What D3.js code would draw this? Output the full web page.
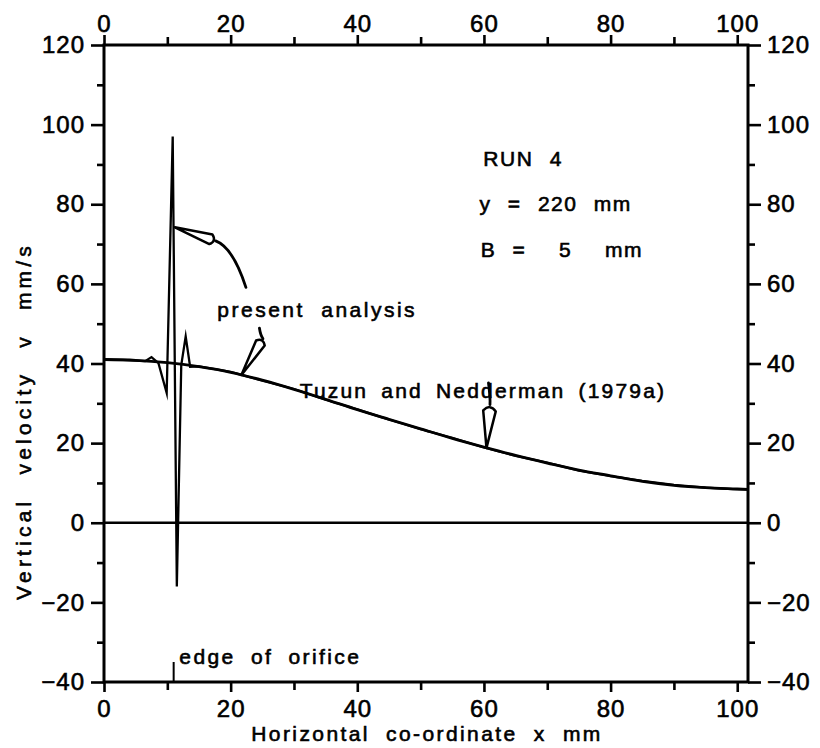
<!DOCTYPE html>
<html>
<head>
<meta charset="utf-8">
<script src="https://cdn.jsdelivr.net/npm/d3@7"></script>
<style>
  html, body { margin: 0; padding: 0; background: #fff; }
  svg { display: block; }
  text { font-family: "Liberation Sans", Arial, Helvetica, sans-serif; fill: #000; stroke: #000; stroke-width: 0.6px; }
</style>
</head>
<body>
<svg id="chart" width="820" height="748"></svg>
<script>
// Horizontal co-ordinate x (mm) and vertical velocity v (mm/s)
const tuzunX = [0, 5, 10, 15, 20, 25, 30, 35, 40, 45, 50, 55, 60, 65, 70, 75, 80, 85, 90, 95, 100, 101.7];
const tuzunV = [41, 40.8, 40.2, 39.2, 37.8, 35.8, 33.5, 31, 28.4, 26, 23.6, 21.2, 19, 16.9, 15, 13.2, 11.8, 10.4, 9.4, 8.8, 8.5, 8.4];

const presentX = [0, 3, 6.5, 7.5, 8.6, 9.9, 10.85, 11.5, 12.2, 12.9, 13.6, 15, 20, 25, 30, 35, 40, 45, 50, 55, 60, 65, 70, 75, 80, 85, 90, 95, 100, 101.7];
const presentV = [41, 40.9, 40.6, 41.6, 40.1, 32.6, 97, -16, 39.6, 46.8, 39.2, 39.3, 37.9, 35.7, 33.6, 30.9, 28.5, 25.9, 23.5, 21.3, 18.9, 16.8, 15.1, 13.1, 11.7, 10.5, 9.5, 8.8, 8.4, 8.3];

const xMajorTicks = [0, 20, 40, 60, 80, 100];
const xMinorTicks = [10, 30, 50, 70, 90];
const yMajorTicks = [-40, -20, 0, 20, 40, 60, 80, 100, 120];
const yMinorTicks = [-30, -10, 10, 30, 50, 70, 90, 110];

const orificeEdgeX = 11;

// annotation arrows: tip sits on the curve (data coordinates)
const arrowTips = [
  { x: 11.2, v: 74.2 },
  { x: 21.7, v: 37.1 },
  { x: 60.4, v: 18.8 }
];

const svg = d3.select("#chart");
const mLeft = 104, mRight = 748, mTop = 45, mBottom = 682;

const x = d3.scaleLinear().domain([0, 101.7]).range([mLeft, mRight]);
const y = d3.scaleLinear().domain([-40, 120]).range([mBottom, mTop]);

const fmt = d => d < 0 ? "\u2212" + Math.abs(d) : String(d);

function styleAxis(g) {
  g.select(".domain").remove();
  g.selectAll(".tick line").attr("stroke", "#000").attr("stroke-width", 2.6);
  g.selectAll(".tick text").attr("font-size", 24).attr("fill", "#000")
    .style("font-family", "'Liberation Sans', Arial, sans-serif")
    .attr("letter-spacing", 1);
}

// major and minor ticks on all four sides
svg.append("g").attr("transform", `translate(${mLeft},0)`)
  .call(d3.axisLeft(y).tickValues(yMajorTicks).tickSize(13).tickPadding(6).tickFormat(fmt))
  .call(styleAxis);
svg.append("g").attr("transform", `translate(${mLeft},0)`)
  .call(d3.axisLeft(y).tickValues(yMinorTicks).tickSize(7).tickFormat(""))
  .call(styleAxis);
svg.append("g").attr("transform", `translate(${mRight},0)`)
  .call(d3.axisRight(y).tickValues(yMajorTicks).tickSize(13).tickPadding(6).tickFormat(fmt))
  .call(styleAxis);
svg.append("g").attr("transform", `translate(${mRight},0)`)
  .call(d3.axisRight(y).tickValues(yMinorTicks).tickSize(7).tickFormat(""))
  .call(styleAxis);
svg.append("g").attr("transform", `translate(0,${mTop})`)
  .call(d3.axisTop(x).tickValues(xMajorTicks).tickSize(10).tickPadding(3).tickFormat(fmt))
  .call(styleAxis);
svg.append("g").attr("transform", `translate(0,${mTop})`)
  .call(d3.axisTop(x).tickValues(xMinorTicks).tickSize(8).tickFormat(""))
  .call(styleAxis);
svg.append("g").attr("transform", `translate(0,${mBottom})`)
  .call(d3.axisBottom(x).tickValues(xMajorTicks).tickSize(10).tickPadding(8).tickFormat(fmt))
  .call(styleAxis);
svg.append("g").attr("transform", `translate(0,${mBottom})`)
  .call(d3.axisBottom(x).tickValues(xMinorTicks).tickSize(8).tickFormat(""))
  .call(styleAxis);

// plot frame
svg.append("rect")
  .attr("x", mLeft).attr("y", mTop)
  .attr("width", mRight - mLeft).attr("height", mBottom - mTop)
  .attr("fill", "none").attr("stroke", "#000").attr("stroke-width", 3);

// zero line
svg.append("line")
  .attr("x1", mLeft).attr("x2", mRight)
  .attr("y1", y(0)).attr("y2", y(0))
  .attr("stroke", "#000").attr("stroke-width", 2.4);

// orifice edge marker
svg.append("line")
  .attr("x1", x(orificeEdgeX)).attr("x2", x(orificeEdgeX))
  .attr("y1", mBottom).attr("y2", mBottom - 20)
  .attr("stroke", "#000").attr("stroke-width", 2);

// curves
const tuzun = tuzunX.map((d, i) => [d, tuzunV[i]]);
const present = presentX.map((d, i) => [d, presentV[i]]);

svg.append("path")
  .datum(tuzun)
  .attr("d", d3.line().x(d => x(d[0])).y(d => y(d[1])).curve(d3.curveMonotoneX))
  .attr("fill", "none").attr("stroke", "#000").attr("stroke-width", 2.8);

svg.append("path")
  .datum(present)
  .attr("d", d3.line().x(d => x(d[0])).y(d => y(d[1])).curve(d3.curveLinear))
  .attr("fill", "none").attr("stroke", "#000").attr("stroke-width", 2.3)
  .attr("stroke-linejoin", "miter").attr("stroke-miterlimit", 20);

// hand-drawn style pointer: slender open triangle plus a tail
function pointer(tip, dx, dy, halfW, tail) {
  const tx = x(tip.x), ty = y(tip.v);
  const bx = tx + dx, by = ty + dy;
  const len = Math.hypot(dx, dy);
  const px = -dy / len * halfW, py = dx / len * halfW;
  const p = d3.path();
  p.moveTo(tx, ty);
  p.lineTo(bx + px, by + py);
  p.quadraticCurveTo(bx + dx / len * halfW * 1.2, by + dy / len * halfW * 1.2, bx - px, by - py);
  p.closePath();
  svg.append("path").attr("d", p.toString())
    .attr("fill", "#fff").attr("stroke", "#000").attr("stroke-width", 2.5)
    .attr("stroke-linejoin", "round");
  const t = d3.path();
  t.moveTo(bx + dx / len * halfW, by + dy / len * halfW);
  t.quadraticCurveTo(bx + tail[0], by + tail[1], bx + tail[2], by + tail[3]);
  svg.append("path").attr("d", t.toString())
    .attr("fill", "none").attr("stroke", "#000").attr("stroke-width", 2.8)
    .attr("stroke-linecap", "round");
}

pointer(arrowTips[0], 36, 12, 5, [22, 8, 35, 48]);
pointer(arrowTips[1], 19, -32, 5, [0, -8, -1, -15]);
pointer(arrowTips[2], 3, -37, 6.3, [1, -12, -1, -28]);

// text annotations
function label(str, px, py, size, opts = {}) {
  const t = svg.append("text")
    .attr("x", px).attr("y", py)
    .attr("font-size", size)
    .attr("letter-spacing", opts.ls == null ? 2 : opts.ls)
    .attr("word-spacing", opts.ws == null ? 6 : opts.ws)
    .style("white-space", "pre")
    .text(str);
  if (opts.anchor) t.attr("text-anchor", opts.anchor);
  if (opts.rotate) t.attr("transform", `rotate(-90,${px},${py})`);
  return t;
}

label("present analysis", x(17.9), y(51.6), 21, { ls: 2.5, ws: 8 });
label("Tuzun and Nedderman (1979a)", x(30.9), y(31.3), 21, { ls: 2.2, ws: 5 });
label("RUN 4", x(59.9), y(89.5), 21, { ls: 1.5, ws: 9 });
label("y = 220 mm", x(59.3), y(78.2), 21, { ls: 1.5, ws: 9 });
label("B =  5  mm", x(59.5), y(66.8), 21, { ls: 1.5, ws: 9 });
label("edge of orifice", x(11.9), y(-35.6), 21, { ls: 2.4, ws: 7 });

label("Horizontal co-ordinate x mm", 427, 741, 21, { anchor: "middle", ls: 2.4, ws: 8 });
label("Vertical velocity v mm/s", 31, 421, 21, { anchor: "middle", ls: 4.2, ws: 13, rotate: true });
</script>
</body>
</html>
